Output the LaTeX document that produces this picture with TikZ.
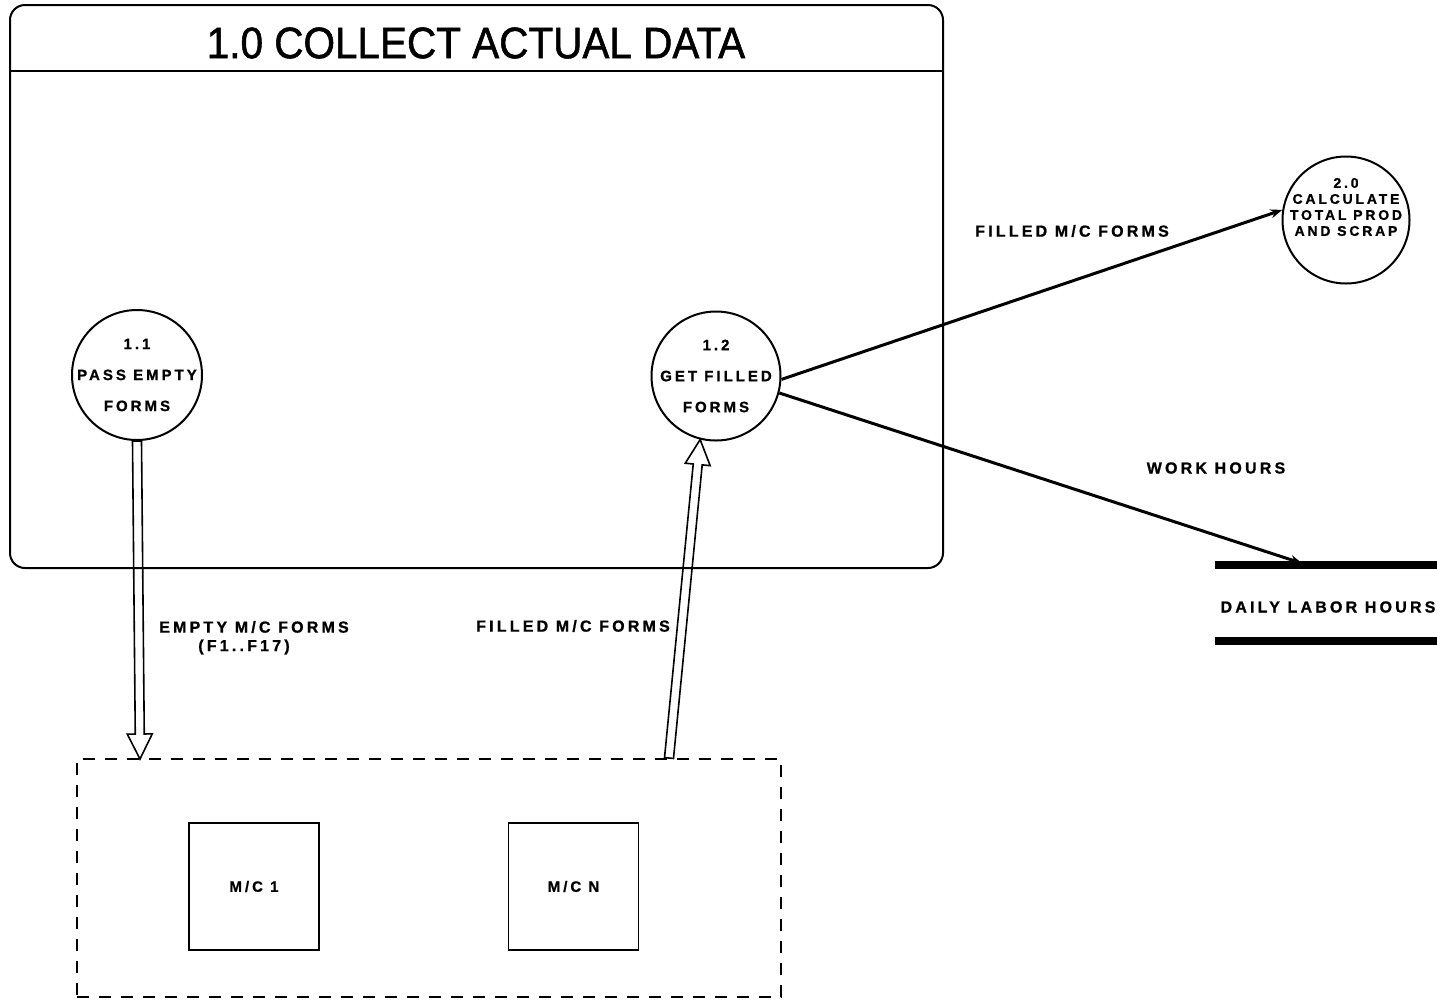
\documentclass[tikz,border=0pt]{standalone}
\usepackage{fontspec}
\usetikzlibrary{calc,arrows.meta}
\newfontfamily\titlefont{Liberation Sans}[FakeStretch=0.92, FakeBold=1.2]
\newfontfamily\lblfont{Liberation Sans}[LetterSpace=20, FakeBold=1]

\tikzset{
  proc/.style={circle, draw, line width=1pt, minimum size=#1, inner sep=0pt},
  proctext/.style={align=center, font=\lblfont\bfseries\fontsize{7.5}{15.5}\selectfont, inner sep=0pt},
  flowlabel/.style={font=\lblfont\bfseries\fontsize{8}{10}\selectfont, inner sep=0pt, align=center},
  machine/.style={draw, line width=0.7pt, minimum width=65pt, minimum height=63.5pt,
    font=\lblfont\bfseries\fontsize{7.5}{10}\selectfont},
  flow/.style={line width=1.5pt, -{Stealth[length=6pt,width=4.5pt]}},
  hollow/.style={line width=0.8pt, line join=miter},
}

% open "double shaft" arrow from #1 to tip #2
\newcommand\fatarrow[2]{%
  \coordinate (fa-h) at ($(#2)!12.5pt!(#1)$);
  \draw[hollow]
    ($(#1)!2.25pt!90:(#2)$) -- ($(fa-h)!2.25pt!90:(#2)$) -- ($(fa-h)!6.25pt!90:(#2)$)
    -- (#2)
    -- ($(fa-h)!6.25pt!-90:(#2)$) -- ($(fa-h)!2.25pt!-90:(#2)$) -- ($(#1)!2.25pt!-90:(#2)$)
    -- cycle;
}

\begin{document}
\begin{tikzpicture}[x=0.5pt, y=-0.5pt]
  \useasboundingbox (0,0) rectangle (1437,1003);

  % process 1.0 container
  \node[draw, line width=1pt, rounded corners=7.5pt, minimum width=466.5pt,
        minimum height=281.5pt, inner sep=0pt] (grp) at (476.5,286.5) {};
  \draw[line width=1pt] ($(grp.north west)+(0,67)$) coordinate (divl)
        -- ($(grp.north east)+(0,67)$) coordinate (divr);
  \node[font=\titlefont\fontsize{22}{24}\selectfont, inner sep=0pt] (title) at (476,43)
        {1.0 COLLECT ACTUAL DATA};

  % processes
  \node[proc=65pt] (p11) at (137,375) {};
  \node[proctext] (t11) at (p11) {1.1\\PASS EMPTY\\FORMS};
  \node[proc=64.5pt] (p12) at (716,376) {};
  \node[proctext] (t12) at (p12) {1.2\\GET FILLED\\FORMS};
  \node[proc=63.5pt] (p20) at (1346,220) {};
  \node[align=center, inner sep=0pt, font=\lblfont\bfseries\fontsize{7}{8}\selectfont]
        (t20) at (1346,207) {2.0\\CALCULATE\\TOTAL PROD\\AND SCRAP};

  % data store
  \node[minimum width=111pt, minimum height=38pt, inner sep=0pt] (store) at (1326,603) {};
  \draw[line width=4pt] (store.north west) -- (store.north east);
  \draw[line width=4pt] (store.south west) -- (store.south east);
  \node[flowlabel] (tstore) at (1328,607) {DAILY LABOR HOURS};

  % machines
  \node[draw, dashed, dash pattern=on 6pt off 5pt, line width=0.75pt,
        minimum width=352pt, minimum height=119pt, inner sep=0pt] (mcs) at (429,878) {};
  \node[machine] (mc1) at (254,886.5) {M/C 1};
  \node[machine] (mcn) at (573.5,886.5) {M/C N};

  % flows
  \coordinate (a1tip) at (140,759);
  \fatarrow{p11.south}{a1tip}
  \coordinate (a2base) at (669,758);
  \fatarrow{a2base}{p12.-104}

  \draw[flow] (p12.-3) -- (p20.171);
  \draw[flow, shorten >=2pt] (p12.-15) -- ($(store.north west)!0.41!(store.north east)$);

  % flow labels
  \node[flowlabel] (lempty) at (254,627) {EMPTY M/C FORMS};
  \node[flowlabel] (lf117) at (244,647) {(F1..F17)};
  \node[flowlabel] (lfill1) at (573,626) {FILLED M/C FORMS};
  \node[flowlabel] (lfill2) at (1072,231) {FILLED M/C FORMS};
  \node[flowlabel] (lwork) at (1216,468) {WORK HOURS};
\end{tikzpicture}
\end{document}
